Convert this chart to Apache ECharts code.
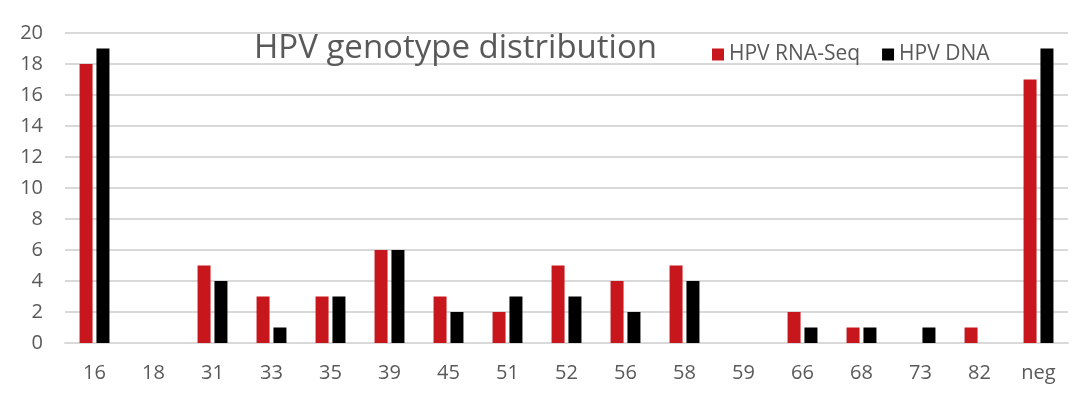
<!DOCTYPE html>
<html><head><meta charset="utf-8">
<script src="https://cdn.jsdelivr.net/npm/echarts@6/dist/echarts.min.js"></script>
<style>html,body{margin:0;padding:0;background:#fff}#c{width:1080px;height:394px}</style>
</head><body><div id="c"></div>
<script>
const categories = ['16','18','31','33','35','39','45','51','52','56','58','59','66','68','73','82','neg'];
const rnaSeq = [18,0,5,3,3,6,3,2,5,4,5,0,2,1,0,1,17];
const dna = [19,0,4,1,3,6,2,3,3,2,4,0,1,1,1,0,19];
const yTicks = {min:0, max:20, interval:2};
const font = '"Open Sans", "Liberation Sans", sans-serif';
const chart = echarts.init(document.getElementById('c'));
chart.setOption({
  animation:false,
  title:{text:'HPV genotype distribution', left:249, top:27, textStyle:{fontFamily:font, fontSize:33, fontWeight:'normal', color:'#595959'}},
  legend:{left:707, top:39, itemWidth:12, itemHeight:12, itemGap:22, icon:'rect',
    textStyle:{fontFamily:font, fontSize:21, color:'#595959'},
    data:['HPV RNA-Seq','HPV DNA']},
  grid:{left:65, right:12, top:33, bottom:51},
  xAxis:{type:'category', data:categories,
    axisLine:{lineStyle:{color:'#d9d9d9', width:2}}, axisTick:{show:false},
    axisLabel:{fontFamily:font, fontSize:20, color:'#595959', margin:20}},
  yAxis:{type:'value', min:yTicks.min, max:yTicks.max, interval:yTicks.interval,
    splitLine:{lineStyle:{color:'#d9d9d9', width:2}}, axisLine:{show:false}, axisTick:{show:false},
    axisLabel:{fontFamily:font, fontSize:20, color:'#595959', margin:22}},
  series:[
    {name:'HPV RNA-Seq', type:'bar', data:rnaSeq, barWidth:13, barGap:'30%', itemStyle:{color:'#C8161D'}},
    {name:'HPV DNA', type:'bar', data:dna, barWidth:13, itemStyle:{color:'#000000'}}
  ]
});
</script></body></html>
